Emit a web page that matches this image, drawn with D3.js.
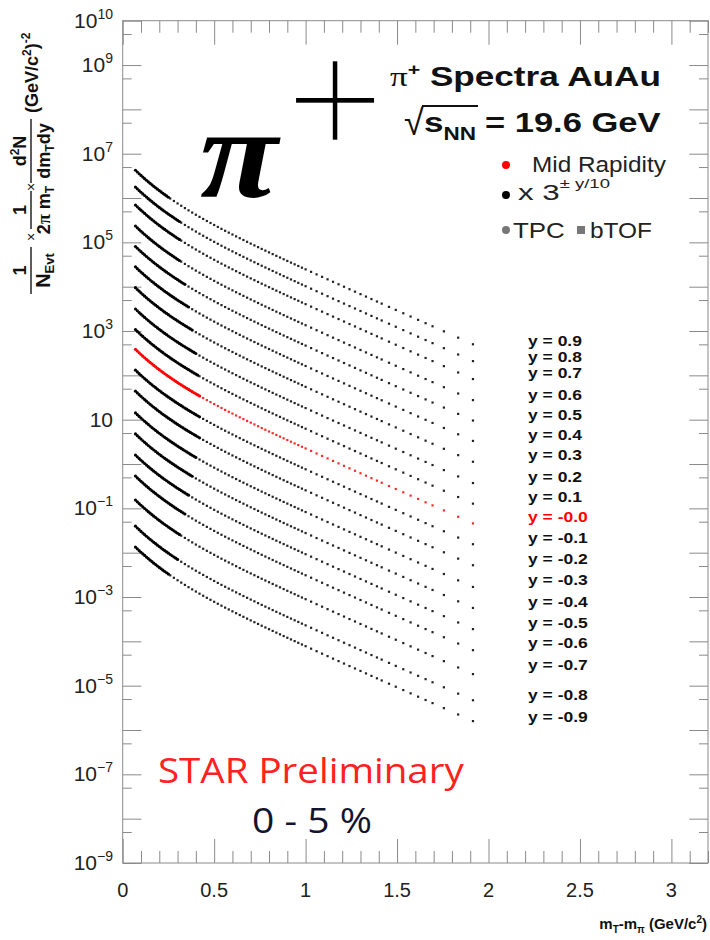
<!DOCTYPE html>
<html><head><meta charset="utf-8">
<script src="https://cdn.jsdelivr.net/npm/d3@7"></script>
<style>
body{margin:0;background:#fff}
svg{display:block}
</style>
</head><body>
<svg id="c" width="710" height="940" font-family="Liberation Sans, Arial, sans-serif"></svg>
<script>
// ---------------- DATA ----------------
// rapidity of each spectrum (top to bottom)
const rapidities = [0.9,0.8,0.7,0.6,0.5,0.4,0.3,0.2,0.1,0.0,-0.1,-0.2,-0.3,-0.4,-0.5,-0.6,-0.7,-0.8,-0.9];
const rapidityLabels = ["y = 0.9","y = 0.8","y = 0.7","y = 0.6","y = 0.5","y = 0.4","y = 0.3","y = 0.2","y = 0.1","y = -0.0",
  "y = -0.1","y = -0.2","y = -0.3","y = -0.4","y = -0.5","y = -0.6","y = -0.7","y = -0.8","y = -0.9"];
// log10 of the display scale factor applied to each rapidity slice (x 3^(±y/10))
const scaleLog10 = [4.04,3.66,3.255,2.78,2.32,1.86,1.39,0.91,0.445,0,-0.47,-0.944,-1.434,-1.908,-2.385,-2.86,-3.40,-3.99,-4.46];
// last mT-m bin measured by the TPC for each slice (bTOF beyond)
const tpcEnd = [0.25,0.31,0.31,0.31,0.34,0.36,0.38,0.40,0.41,0.42,0.42,0.42,0.40,0.38,0.36,0.34,0.31,0.30,0.25];
// TPC bins (mT - m, GeV/c^2) and mid-rapidity log10 yields
const tpcMt = [0.07,0.08,0.09,0.10,0.11,0.12,0.13,0.14,0.15,0.16,0.17,0.18,0.19,0.20,0.21,0.22,0.23,0.24,0.25,0.26,0.27,0.28,0.29,0.30,0.31,0.32,0.33,0.34,0.35,0.36,0.37,0.38,0.39,0.40,0.41,0.42];
const tpcMidLog10 = [2.587,2.547,2.508,2.470,2.433,2.397,2.361,2.326,2.291,2.257,2.224,2.192,2.159,2.128,2.097,2.066,2.036,2.007,1.978,1.949,1.921,1.893,1.865,1.838,1.811,1.785,1.758,1.733,1.707,1.682,1.657,1.632,1.607,1.583,1.559,1.535];
// bTOF bins and mid-rapidity log10 yields
const tofMt = [0.24,0.26,0.28,0.30,0.32,0.34,0.36,0.38,0.40,0.42,0.44,0.46,0.48,0.50,0.52,0.54,0.56,0.58,0.60,0.62,0.64,0.66,0.68,0.70,0.72,0.74,0.76,0.78,0.80,0.82,0.84,0.86,0.88,0.90,0.92,0.94,0.96,0.98,1.00,
  1.03,1.06,1.09,1.12,1.15,1.18,1.21,1.24,1.27,1.30,1.33,1.36,1.39,
  1.416,1.456,1.493,1.534,1.574,1.615,1.656,1.694,1.756,1.834,1.915];
const tofMidLog10 = [2.007,1.949,1.893,1.838,1.785,1.733,1.682,1.632,1.583,1.535,1.488,1.442,1.397,1.352,1.308,1.264,1.221,1.179,1.137,1.095,1.054,1.013,0.972,0.932,0.892,0.852,0.812,0.773,0.734,0.695,0.656,0.618,0.579,0.541,0.503,0.465,0.427,0.389,0.351,
  0.295,0.238,0.182,0.126,0.070,0.015,-0.041,-0.097,-0.152,-0.208,-0.263,-0.319,-0.374,
  -0.422,-0.496,-0.564,-0.639,-0.713,-0.788,-0.863,-0.933,-1.047,-1.190,-1.339];
const xTickValues = [0,0.5,1,1.5,2,2.5,3];
const xTickLabels = ["0","0.5","1","1.5","2","2.5","3"];
const yLabelExponents = [10,9,7,5,3,1,-1,-3,-5,-7,-9];

// ---------------- LAYOUT ----------------
const L=122.7, R=708, T=20.7, B=863;
const svg = d3.select("#c");
const x = d3.scaleLinear().domain([0,3.2]).range([L,R]);
const y = d3.scaleLog().domain([1e-9,1e10]).range([B,T]);
const axisColor = "#8a8a8a";

function tickAxis(gen, tr){
  const g = svg.append("g").attr("transform",tr).call(gen);
  g.select(".domain").remove();
  g.selectAll("text").remove();
  g.selectAll("line").attr("stroke",axisColor).attr("stroke-width",1);
}
const xMinor = d3.range(0,3.21,0.1).map(v=>+v.toFixed(2)).filter(v=>Math.abs(v*2-Math.round(v*2))>1e-6);
const decades = d3.range(-9,11).map(e=>Math.pow(10,e));
const fives = d3.range(-9,10).map(e=>5*Math.pow(10,e));
tickAxis(d3.axisBottom(x).tickValues(xTickValues).tickSize(-24), `translate(0,${B})`);
tickAxis(d3.axisBottom(x).tickValues(xMinor).tickSize(-12), `translate(0,${B})`);
tickAxis(d3.axisTop(x).tickValues(xTickValues).tickSize(-24), `translate(0,${T})`);
tickAxis(d3.axisTop(x).tickValues(xMinor).tickSize(-12), `translate(0,${T})`);
tickAxis(d3.axisLeft(y).tickValues(decades).tickSize(-18.7), `translate(${L},0)`);
tickAxis(d3.axisLeft(y).tickValues(fives).tickSize(-9), `translate(${L},0)`);
tickAxis(d3.axisRight(y).tickValues(decades).tickSize(-18.7), `translate(${R},0)`);
tickAxis(d3.axisRight(y).tickValues(fives).tickSize(-9), `translate(${R},0)`);
svg.append("rect").attr("x",L).attr("y",T).attr("width",R-L).attr("height",B-T)
  .attr("fill","none").attr("stroke",axisColor).attr("stroke-width",1);

// tick labels
xTickValues.forEach((v,i)=>{
  svg.append("text").attr("x",x(v)).attr("y",897)
    .attr("text-anchor","middle").attr("font-size",20).attr("fill","#222").text(xTickLabels[i]);
});
yLabelExponents.forEach(e=>{
  const t = svg.append("text").attr("x",113).attr("y",y(Math.pow(10,e))+7)
    .attr("text-anchor","end").attr("font-size",21).attr("fill","#222");
  t.append("tspan").text("10");
  if(e!==1) t.append("tspan").attr("dy",-9).attr("font-size",14).text(e<0?"\u2212"+(-e):String(e));
});

// x-axis title
{
  const t = svg.append("text").attr("x",707).attr("y",929).attr("text-anchor","end")
    .attr("font-size",15).attr("font-weight","bold").attr("fill","#111");
  t.append("tspan").text("m");
  t.append("tspan").attr("dy",4).attr("font-size",10).text("T");
  t.append("tspan").attr("dy",-4).text("-m");
  t.append("tspan").attr("dy",4).attr("font-size",10).text("\u03c0");
  t.append("tspan").attr("dy",-4).text(" (GeV/c");
  t.append("tspan").attr("dy",-6).attr("font-size",10).text("2");
  t.append("tspan").attr("dy",6).text(")");
}

// y-axis title (rotated)
{
  const g = svg.append("g").attr("transform","translate(31,294) rotate(-90)").attr("font-weight","bold").attr("fill","#111");
  const bar=(a,b)=>g.append("line").attr("x1",a).attr("x2",b).attr("y1",0).attr("y2",0).attr("stroke","#333").attr("stroke-width",1.6);
  const txt=(cx,by,fs)=>g.append("text").attr("x",cx).attr("y",by).attr("text-anchor","middle").attr("font-size",fs);
  bar(0,47);
  txt(23.5,-5,18).text("1");
  { const t=txt(23.5,19,20); t.append("tspan").text("N"); t.append("tspan").attr("dy",4).attr("font-size",13).text("Evt"); }
  txt(57,5,14).attr("font-weight","normal").text("\u00d7");
  bar(65,103);
  txt(84,-5,18).text("1");
  { const t=txt(84,19,18); t.append("tspan").text("2"); t.append("tspan").style("font-family","Liberation Serif").text("\u03c0"); t.append("tspan").text(" m"); t.append("tspan").attr("dy",4).attr("font-size",12).text("T"); }
  txt(107,5,14).attr("font-weight","normal").text("\u00d7");
  bar(111,175);
  { const t=txt(143,-5,18); t.append("tspan").text("d"); t.append("tspan").attr("dy",-7).attr("font-size",12).text("2"); t.append("tspan").attr("dy",7).text("N"); }
  { const t=txt(143,19,18); t.append("tspan").text("dm"); t.append("tspan").attr("dy",4).attr("font-size",12).text("T"); t.append("tspan").attr("dy",-4).text("dy"); }
  { const t=g.append("text").attr("x",181).attr("y",7).attr("font-size",18);
    t.append("tspan").text("(GeV/c"); t.append("tspan").attr("dy",-7).attr("font-size",12).text("2");
    t.append("tspan").attr("dy",7).text(")"); t.append("tspan").attr("dy",-8).attr("font-size",12).text("-2"); }
}

// ---------------- DATA POINTS ----------------
const plot = svg.append("g");
rapidities.forEach((rap,i)=>{
  const mid = Math.abs(rap)<1e-9;
  const tpc = tpcMt.map((m,j)=>({m, v:Math.pow(10,tpcMidLog10[j]+scaleLog10[i])})).filter(d=>d.m<=tpcEnd[i]+1e-9);
  const tof = tofMt.map((m,j)=>({m, v:Math.pow(10,tofMidLog10[j]+scaleLog10[i])})).filter(d=>d.m>tpcEnd[i]+1e-9);
  plot.append("g").selectAll("rect").data(tof).join("rect")
    .attr("x",d=>x(d.m)-1.1).attr("y",d=>y(d.v)-1.1).attr("width",2.2).attr("height",2.2)
    .attr("fill",mid?"#ff2a2a":"#222");
  plot.append("g").selectAll("circle").data(tpc).join("circle")
    .attr("cx",d=>x(d.m)).attr("cy",d=>y(d.v)).attr("r",1.6)
    .attr("fill",mid?"#ff0000":"#000");
});

// rapidity labels on the right
const labelCenters = [341,357,373.3,395,415,435,455,476.7,496.7,516.7,538.3,559.3,580,601.7,622.7,643.3,665,695,716.7];
rapidityLabels.forEach((s,i)=>{
  svg.append("text").attr("transform",`translate(528,${labelCenters[i]+5}) scale(1.25,1)`)
    .attr("font-size",14).attr("font-weight","bold")
    .attr("fill",Math.abs(rapidities[i])<1e-9?"#ff0000":"#111").text(s);
});

// ---------------- ANNOTATIONS ----------------
function fit(g,x0,x1,base){
  const b=g.node().getBBox(); const s=(x1-x0)/b.width;
  g.attr("transform",`translate(${x0-b.x*s},${base}) scale(${s},1)`);
}
// big pi+
{ const g=svg.append("g");
  g.append("text").style("font-family","Liberation Serif").attr("font-weight","bold").attr("font-style","italic")
    .attr("font-size",130).attr("fill","#000").text("\u03c0");
  fit(g,200,281,197); }
svg.append("text").attr("x",335).attr("y",143).attr("text-anchor","middle")
  .style("font-family","DejaVu Sans").attr("font-size",135).attr("fill","#000")
  .attr("stroke","#fff").attr("stroke-width",6.5).text("+");

// title
{
  const g=svg.append("g"); const t=g.append("text").attr("font-weight","bold").attr("font-size",28).attr("fill","#111");
  t.append("tspan").style("font-family","Liberation Serif").attr("font-weight","normal").text("\u03c0");
  t.append("tspan").attr("dy",-11).attr("font-size",17).text("+");
  t.append("tspan").attr("dy",11).text(" Spectra AuAu");
  fit(g,390,661,86);
}
{
  svg.append("text").attr("x",404).attr("y",135).attr("font-size",36).attr("fill","#111").text("\u221a");
  svg.append("line").attr("x1",422).attr("x2",478).attr("y1",106).attr("y2",106).attr("stroke","#111").attr("stroke-width",1.8);
  const g=svg.append("g"); const t=g.append("text").attr("font-weight","bold").attr("font-size",28).attr("fill","#111");
  t.append("tspan").text("s"); t.append("tspan").attr("dy",8).attr("font-size",18).text("NN");
  fit(g,424,476,132);
  const g2=svg.append("g"); g2.append("text").attr("font-weight","bold").attr("font-size",28).attr("fill","#111").text("= 19.6 GeV");
  fit(g2,485,661,132);
}
// legend
svg.append("circle").attr("cx",506).attr("cy",165).attr("r",4).attr("fill","#ff0000");
{ const g=svg.append("g"); g.append("text").attr("font-size",22).attr("fill","#222").text("Mid Rapidity"); fit(g,532,666,172); }
svg.append("circle").attr("cx",506).attr("cy",195).attr("r",4).attr("fill","#000");
{ const g=svg.append("g"); const t=g.append("text").attr("font-size",22).attr("fill","#222");
  t.append("tspan").text("x 3"); t.append("tspan").attr("dy",-12).attr("font-size",13).text("\u00b1 y/10");
  fit(g,518,610,200); }
svg.append("circle").attr("cx",506).attr("cy",230).attr("r",4).attr("fill","#777");
{ const g=svg.append("g"); g.append("text").attr("font-size",22).attr("fill","#222").text("TPC"); fit(g,513,565,238); }
svg.append("rect").attr("x",577).attr("y",226).attr("width",8).attr("height",8).attr("fill","#777");
{ const g=svg.append("g"); g.append("text").attr("font-size",22).attr("fill","#222").text("bTOF"); fit(g,590,652,238); }

// STAR preliminary
{ const g=svg.append("g"); g.append("text").style("font-family","Open Sans").attr("font-size",34).attr("fill","#ff2020").text("STAR Preliminary"); fit(g,158,465,783); }
{ const g=svg.append("g"); g.append("text").style("font-family","Open Sans").attr("font-size",34).attr("fill","#14142e").text("0 - 5 %"); fit(g,252,372,833); }
</script>
</body></html>
